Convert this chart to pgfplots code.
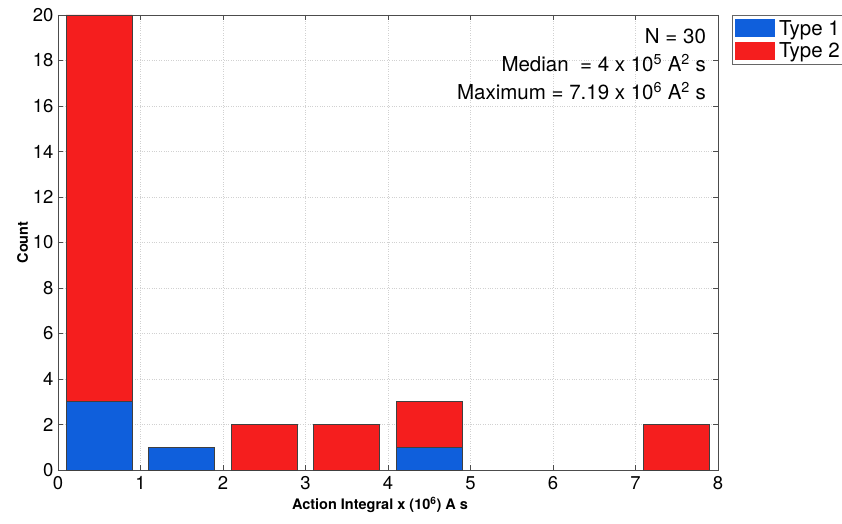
\documentclass[border=0pt]{standalone}
\usepackage{pgfplots}
\pgfplotsset{compat=1.18}
\usepackage{fontspec}
\setmainfont{TeX Gyre Heros}
\definecolor{tblue}{RGB}{15,95,220}
\definecolor{tred}{RGB}{245,30,30}
\begin{document}
\begin{tikzpicture}
\begin{axis}[
  scale only axis, width=660pt, height=455pt,
  xmin=0, xmax=8, ymin=0, ymax=20,
  xtick={0,1,...,8}, ytick={0,2,...,20},
  ybar stacked, bar width=0.8,
  tick align=inside, major tick length=5pt,
  tick style={black!70, line width=0.5pt},
  axis line style={black!70, line width=0.6pt},
  grid=major, major grid style={black!18, dotted, line width=0.6pt},
  /pgf/number format/assume math mode=true,
  ticklabel style={font=\fontsize{18.5}{22}\selectfont},
  xticklabel style={yshift=-3pt},
  yticklabel style={xshift=-1pt},
  xlabel={Action Integral x (10\textsuperscript{6}) A s},
  ylabel={Count},
  label style={font=\fontsize{14.5}{17}\selectfont\bfseries},
  xlabel style={xshift=-8pt},
  ylabel style={yshift=-2pt},
  legend style={at={(1,1)}, anchor=north west, xshift=14pt, draw=black!60,
    font=\fontsize{20.5}{22}\selectfont, row sep=2pt, inner sep=3pt,
    nodes={inner xsep=4pt}},
  legend cell align=left,
  legend image code/.code={\path[#1, draw=none] (1pt,-9pt) rectangle (41pt,9pt);},
]
\addplot[fill=tblue, draw=black!75, line width=0.6pt] coordinates {
  (0.5,3) (1.5,1) (2.5,0) (3.5,0) (4.5,1) (5.5,0) (6.5,0) (7.5,0)};
\addlegendentry{Type 1}
\addplot[fill=tred, draw=black!75, line width=0.6pt] coordinates {
  (0.5,17) (1.5,0) (2.5,2) (3.5,2) (4.5,2) (5.5,0) (6.5,0) (7.5,2)};
\addlegendentry{Type 2}
\node[anchor=north east, align=right, font=\fontsize{20.5}{28}\selectfont, inner sep=0pt]
  at (rel axis cs:0.982,0.97)
  {N = 30\\Median \ = 4 x 10\textsuperscript{5} A\textsuperscript{2} s\\Maximum = 7.19 x 10\textsuperscript{6} A\textsuperscript{2} s};
\coordinate (O) at (rel axis cs:0,0);
\end{axis}
\pgfresetboundingbox
\path[use as bounding box] ([shift={(-58pt,-53pt)}]O) rectangle ++(842pt,523pt);
\end{tikzpicture}
\end{document}
